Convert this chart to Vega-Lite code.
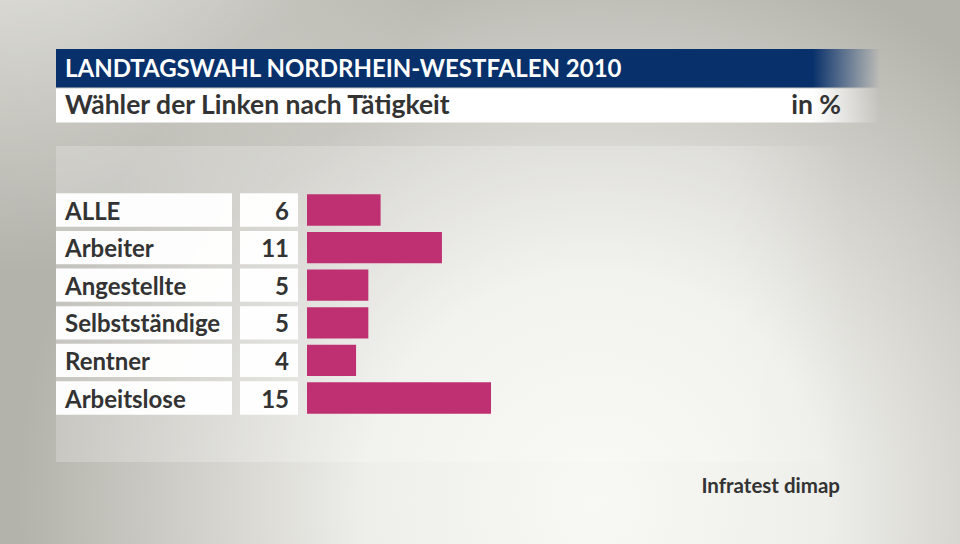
{
  "$schema": "https://vega.github.io/schema/vega-lite/v6.json",
  "width": 960,
  "height": 544,
  "padding": 0,
  "autosize": {"type": "none"},
  "background": "#b3b2ab",
  "config": {"view": {"stroke": null}, "font": "Lato"},
  "datasets": {
    "rows": [
      {"Taetigkeit": "ALLE", "Anteil": 6},
      {"Taetigkeit": "Arbeiter", "Anteil": 11},
      {"Taetigkeit": "Angestellte", "Anteil": 5},
      {"Taetigkeit": "Selbstständige", "Anteil": 5},
      {"Taetigkeit": "Rentner", "Anteil": 4},
      {"Taetigkeit": "Arbeitslose", "Anteil": 15}
    ],
    "one": [{}]
  },
  "layer": [
    {
      "data": {"name": "one"},
      "mark": {"type": "rect", "fill": {"gradient": "radial", "x1": 0.62, "y1": 0.74, "r1": 0, "x2": 0.62, "y2": 0.74, "r2": 0.6,
        "stops": [{"offset": 0, "color": "#f8f8f4"}, {"offset": 0.4, "color": "#eeeeea"}, {"offset": 0.75, "color": "#cccbc5"}, {"offset": 1, "color": "#b3b2ab"}]}},
      "encoding": {"x": {"value": 0}, "x2": {"value": 960}, "y": {"value": 0}, "y2": {"value": 544}}
    },
    {
      "data": {"name": "one"},
      "mark": {"type": "rect", "fill": {"gradient": "radial", "x1": 0, "y1": 0, "r1": 0, "x2": 0, "y2": 0, "r2": 0.5,
        "stops": [{"offset": 0, "color": "rgba(248,248,244,0.95)"}, {"offset": 1, "color": "rgba(248,248,244,0)"}]}},
      "encoding": {"x": {"value": 0}, "x2": {"value": 960}, "y": {"value": 0}, "y2": {"value": 544}}
    },
    {
      "data": {"name": "one"},
      "mark": {"type": "rect", "fill": {"gradient": "linear", "x1": 0, "y1": 0, "x2": 1, "y2": 0,
        "stops": [{"offset": 0, "color": "rgba(255,255,255,0.22)"}, {"offset": 0.85, "color": "rgba(255,255,255,0.22)"}, {"offset": 1, "color": "rgba(255,255,255,0)"}]}},
      "encoding": {"x": {"value": 56}, "x2": {"value": 850}, "y": {"value": 146}, "y2": {"value": 462}}
    },
    {
      "data": {"name": "one"},
      "mark": {"type": "rect", "fill": {"gradient": "linear", "x1": 0, "y1": 0, "x2": 1, "y2": 0,
        "stops": [{"offset": 0, "color": "#08306b"}, {"offset": 0.918, "color": "#08306b"}, {"offset": 1, "color": "rgba(8,48,107,0)"}]}},
      "encoding": {"x": {"value": 56}, "x2": {"value": 880}, "y": {"value": 49}, "y2": {"value": 87.5}}
    },
    {
      "data": {"name": "one"},
      "mark": {"type": "rect", "fill": {"gradient": "linear", "x1": 0, "y1": 0, "x2": 1, "y2": 0,
        "stops": [{"offset": 0, "color": "#ffffff"}, {"offset": 0.918, "color": "#ffffff"}, {"offset": 1, "color": "rgba(255,255,255,0)"}]}},
      "encoding": {"x": {"value": 56}, "x2": {"value": 880}, "y": {"value": 88.5}, "y2": {"value": 122.5}}
    },
    {
      "data": {"name": "one"},
      "mark": {"type": "text", "text": "LANDTAGSWAHL NORDRHEIN-WESTFALEN 2010", "fill": "#ffffff", "fontSize": 24, "fontWeight": "bold", "align": "left", "baseline": "alphabetic"},
      "encoding": {"x": {"value": 65}, "y": {"value": 77}}
    },
    {
      "data": {"name": "one"},
      "mark": {"type": "text", "text": "Wähler der Linken nach Tätigkeit", "fill": "#333333", "fontSize": 26.5, "fontWeight": "bold", "align": "left", "baseline": "alphabetic"},
      "encoding": {"x": {"value": 65}, "y": {"value": 114}}
    },
    {
      "data": {"name": "one"},
      "mark": {"type": "text", "text": "in %", "fill": "#333333", "fontSize": 26.5, "fontWeight": "bold", "align": "right", "baseline": "alphabetic"},
      "encoding": {"x": {"value": 841}, "y": {"value": 114}}
    },
    {
      "data": {"name": "one"},
      "mark": {"type": "text", "text": "Infratest dimap", "fill": "#333333", "fontSize": 20.5, "fontWeight": "bold", "align": "right", "baseline": "alphabetic"},
      "encoding": {"x": {"value": 840}, "y": {"value": 493}}
    },
    {
      "data": {"name": "rows"},
      "layer": [
        {
          "mark": {"type": "rect", "fill": "#ffffff", "opacity": 0.96},
          "encoding": {"x": {"value": 56}, "x2": {"value": 232}}
        },
        {
          "mark": {"type": "rect", "fill": "#ffffff", "opacity": 0.96},
          "encoding": {"x": {"value": 240}, "x2": {"value": 298}}
        },
        {
          "mark": {"type": "bar", "fill": "#be3072", "height": {"band": 0.94}},
          "encoding": {
            "x": {"field": "Anteil", "type": "quantitative", "scale": {"domain": [0, 15], "range": [307, 491], "nice": false, "zero": true}, "axis": null}
          }
        },
        {
          "mark": {"type": "text", "fill": "#333333", "fontSize": 24, "fontWeight": "bold", "align": "left", "baseline": "alphabetic", "dy": 9.5},
          "encoding": {"x": {"value": 65}, "text": {"field": "Taetigkeit"}}
        },
        {
          "mark": {"type": "text", "fill": "#333333", "fontSize": 24, "fontWeight": "bold", "align": "right", "baseline": "alphabetic", "dy": 9.5},
          "encoding": {"x": {"value": 289}, "text": {"field": "Anteil", "type": "quantitative"}}
        }
      ],
      "encoding": {
        "y": {"field": "Taetigkeit", "type": "nominal", "sort": null, "axis": null,
          "scale": {"type": "band", "domain": ["ALLE", "Arbeiter", "Angestellte", "Selbstständige", "Rentner", "Arbeitslose"], "range": [191.2, 416.8], "paddingInner": 0.114, "paddingOuter": 0.057}}
      }
    }
  ]
}
